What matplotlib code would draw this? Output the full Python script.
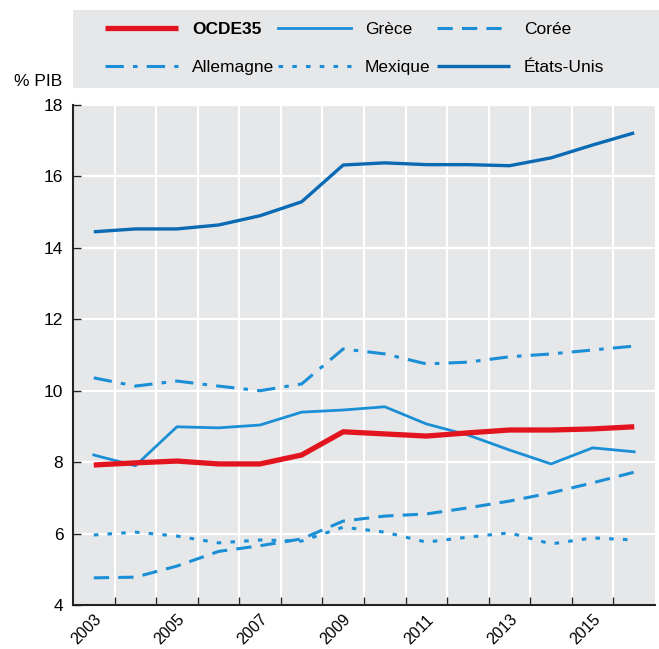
import matplotlib
matplotlib.use("Agg")
import matplotlib.pyplot as plt
from matplotlib.patches import Rectangle
import numpy as np

years = list(range(2003, 2017))
ocde35 = [7.92, 7.98, 8.03, 7.95, 7.95, 8.20, 8.85, 8.79, 8.73, 8.82, 8.90, 8.90, 8.93, 8.99]
grece = [8.20, 7.90, 8.99, 8.96, 9.04, 9.40, 9.46, 9.55, 9.07, 8.76, 8.34, 7.95, 8.40, 8.29]
coree = [4.76, 4.78, 5.09, 5.50, 5.66, 5.85, 6.35, 6.49, 6.55, 6.72, 6.91, 7.14, 7.42, 7.72]
allemagne = [10.36, 10.13, 10.27, 10.13, 10.00, 10.19, 11.17, 11.03, 10.75, 10.80, 10.95, 11.03, 11.14, 11.25]
mexique = [5.96, 6.04, 5.93, 5.74, 5.82, 5.79, 6.18, 6.04, 5.76, 5.90, 6.02, 5.71, 5.88, 5.82]
etats_unis = [14.45, 14.53, 14.53, 14.64, 14.90, 15.29, 16.32, 16.38, 16.33, 16.33, 16.30, 16.52, 16.88, 17.22]
tick_years = ["2003", "2005", "2007", "2009", "2011", "2013", "2015"]
yticks = [4, 6, 8, 10, 12, 14, 16, 18]

plt.rcParams['font.family'] = ['Liberation Sans Narrow', 'Liberation Sans', 'DejaVu Sans']

W, H = 659, 649
fig = plt.figure(figsize=(W / 100, H / 100), dpi=100)
ax = fig.add_axes([73 / W, (H - 605) / H, 582 / W, 500 / H])
bg = '#e6e7e9'
ax.set_facecolor(bg)

x = np.arange(len(years))
c_blue = '#1a8fd6'
c_dark = '#0a6ab4'
c_red = '#e2151f'

ax.plot(x, etats_unis, color=c_dark, lw=2.4, solid_capstyle='butt', label='États-Unis', zorder=3)
ax.plot(x, allemagne, color=c_blue, lw=2.2, dashes=(6, 3, 1.5, 3), label='Allemagne', zorder=3)
ax.plot(x, grece, color=c_blue, lw=2.0, label='Grèce', zorder=3)
ax.plot(x, coree, color=c_blue, lw=2.2, dashes=(5, 3), label='Corée', zorder=3)
ax.plot(x, mexique, color=c_blue, lw=2.2, dashes=(1.5, 3), label='Mexique', zorder=3)
ax.plot(x, ocde35, color=c_red, lw=3.8, solid_capstyle='butt', label='OCDE35', zorder=4)

ax.set_xlim(-0.5, len(years) - 0.5)
ax.set_ylim(4, 18)
ax.set_yticks(yticks)
ax.set_yticklabels([str(v) for v in yticks], fontsize=12.5)

bounds = np.arange(0.5, len(years) - 0.5, 1.0)
ax.set_xticks(bounds, minor=True)
label_pos = [years.index(int(t)) for t in tick_years]
ax.set_xticks(label_pos)
ax.set_xticklabels(tick_years, rotation=45, ha='right', rotation_mode='anchor', fontsize=11.5)
ax.tick_params(axis='x', which='major', length=0, pad=5)
ax.tick_params(axis='x', which='minor', direction='in', length=6, width=1, color='#222222')
ax.tick_params(axis='y', which='major', direction='in', length=6, width=1, color='#222222', pad=7)

ax.grid(True, which='minor', axis='x', color='white', lw=1.6)
ax.grid(True, which='major', axis='y', color='white', lw=1.6)
ax.set_axisbelow(True)

for s in ['top', 'right']:
    ax.spines[s].set_visible(False)
for s in ['left', 'bottom']:
    ax.spines[s].set_color('#222222')
    ax.spines[s].set_linewidth(1.5)

fig.text(14 / W, 1 - 82 / H, '% PIB', fontsize=12.5, va='center', ha='left')

# legend background
fig.patches.append(Rectangle((73 / W, 1 - 88 / H), 1 - 73 / W, 78 / H,
                             transform=fig.transFigure, facecolor=bg, edgecolor='none'))
handles, labels = ax.get_legend_handles_labels()
hd = dict(zip(labels, handles))
columns = [(['OCDE35', 'Allemagne'], 105), (['Grèce', 'Mexique'], 278), (['Corée', 'États-Unis'], 437)]
for names, xpx in columns:
    leg = fig.legend([hd[k] for k in names], names, loc='upper left',
                     bbox_to_anchor=(xpx / W, 1 - 22 / H), frameon=False, fontsize=12.5,
                     handlelength=4.2, handletextpad=0.8, labelspacing=1.3,
                     borderpad=0, borderaxespad=0)
    for t in leg.get_texts():
        if t.get_text() == 'OCDE35':
            t.set_fontweight('bold')

fig.savefig('out.png', dpi=100)
